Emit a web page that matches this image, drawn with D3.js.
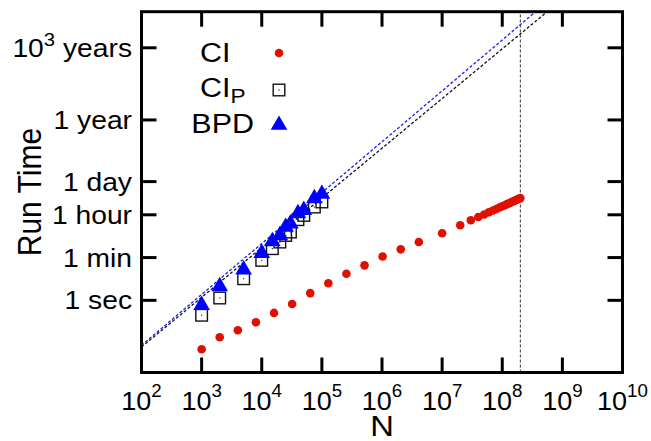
<!DOCTYPE html>
<html>
<head>
<meta charset="utf-8">
<script src="https://cdn.jsdelivr.net/npm/d3@7"></script>
<style>
  body { margin: 0; background: #fff; }
  text { font-family: "Liberation Sans", Arial, Helvetica, sans-serif; fill: #000; }
</style>
</head>
<body>
<div id="vis"></div>
<script>
// datos (N, tiempo en segundos)
const ciN = [1e3, 2e3, 4e3, 8e3, 1.6e4, 3.2e4, 6.4e4, 1.28e5, 2.56e5, 5.12e5, 1.024e6, 2.048e6, 4.096e6,
  1e7, 2e7, 3e7, 4e7, 5e7, 6e7, 7e7, 8e7, 9e7, 1e8, 1.1e8, 1.2e8, 1.3e8, 1.4e8, 1.5e8, 1.6e8, 1.7e8, 1.8e8, 1.9e8, 2e8];
const ciT = [0.0092, 0.029, 0.057, 0.122, 0.30, 0.70, 2.0, 5.1, 12.7, 28.5, 66, 132, 265,
  614, 1330, 2140, 2900, 3700, 4560, 5430, 6310, 7210, 8130, 9040, 9980, 10900, 11900, 12800, 13800, 14800, 15800, 16800, 17800];

const cipN = [1e3, 2e3, 5e3, 1e4, 1.5e4, 2e4, 2.5e4, 3e4, 4e4, 5e4, 7.5e4, 1e5];
const cipT = [0.24, 1.25, 7.9, 46, 141, 265, 500, 690, 2260, 3400, 7560, 12300];

const bpdN = [1e3, 2e3, 5e3, 1e4, 1.5e4, 2e4, 2.5e4, 3e4, 4e4, 5e4, 7.5e4, 1e5];
const bpdT = [0.63, 3.8, 18.8, 92, 283, 500, 1120, 1550, 4100, 5600, 17300, 26300];

// rectas de ajuste (extremos)
const fitCipN = [1e2, 5.6e8];
const fitCipT = [0.0115, 1e12];
const fitBpdN = [1e2, 3.6e8];
const fitBpdT = [0.0135, 1e12];

const cutoffN = 2e8;

const xTicks = [2, 3, 4, 5, 6, 7, 8, 9, 10];
const yTickVals = [1, 60, 3600, 86400, 3.156e7, 3.156e10];
const yTickLabels = ["1 sec", "1 min", "1 hour", "1 day", "1 year", "10^3 years"];

const WIDTH = 651;
const HEIGHT = 441;
const PLOT = { left: 141.5, right: 622.5, top: 11.7, bottom: 372.5 };
const ESTIRA = 1.13; // el texto original es mas ancho que Arial

const SVG = d3.select("#vis").append("svg")
  .attr("width", WIDTH).attr("height", HEIGHT);

const escalaX = d3.scaleLog().domain([1e2, 1e10]).range([PLOT.left, PLOT.right]);
const escalaY = d3.scaleLog().domain([1e-3, 1e12]).range([PLOT.bottom, PLOT.top]);

SVG.append("clipPath").attr("id", "clip")
  .append("rect")
  .attr("x", PLOT.left).attr("y", PLOT.top)
  .attr("width", PLOT.right - PLOT.left).attr("height", PLOT.bottom - PLOT.top);

const plot = SVG.append("g").attr("clip-path", "url(#clip)");

// linea vertical
plot.append("line")
  .attr("x1", escalaX(cutoffN)).attr("x2", escalaX(cutoffN))
  .attr("y1", escalaY(1e-3)).attr("y2", escalaY(1e12))
  .attr("stroke", "#333").attr("stroke-width", 1)
  .attr("stroke-dasharray", "3,2");

const linea = d3.line().x(d => escalaX(d[0])).y(d => escalaY(d[1]));

plot.append("path")
  .datum(d3.zip(fitBpdN, fitBpdT))
  .attr("fill", "none").attr("stroke", "#1a1aff").attr("stroke-width", 1.3)
  .attr("stroke-dasharray", "3,2")
  .attr("d", linea);

plot.append("path")
  .datum(d3.zip(fitCipN, fitCipT))
  .attr("fill", "none").attr("stroke", "#111").attr("stroke-width", 1.3)
  .attr("stroke-dasharray", "3,2")
  .attr("d", linea);

// CI_P cuadrados
const cuadrados = plot.selectAll(".cip")
  .data(d3.zip(cipN, cipT))
  .join("g").attr("class", "cip")
  .attr("transform", d => `translate(${escalaX(d[0])},${escalaY(d[1])})`);
cuadrados.append("rect")
  .attr("x", -5.8).attr("y", -5.8).attr("width", 11.6).attr("height", 11.6)
  .attr("fill", "none").attr("stroke", "#111").attr("stroke-width", 1.4);
cuadrados.append("rect")
  .attr("x", -0.6).attr("y", -0.6).attr("width", 1.2).attr("height", 1.2)
  .attr("fill", "#333");

// BPD triangulos
const tri = d3.symbol().type(d3.symbolTriangle).size(120);
plot.selectAll(".bpd")
  .data(d3.zip(bpdN, bpdT))
  .join("path").attr("class", "bpd")
  .attr("transform", d => `translate(${escalaX(d[0])},${escalaY(d[1])})`)
  .attr("d", tri)
  .attr("fill", "#0000ff");

// CI puntos
plot.selectAll(".ci")
  .data(d3.zip(ciN, ciT))
  .join("circle").attr("class", "ci")
  .attr("cx", d => escalaX(d[0]))
  .attr("cy", d => escalaY(d[1]))
  .attr("r", 4.3)
  .attr("fill", "#e01000");

// ticks
const ticks = SVG.append("g").attr("stroke", "#000").attr("stroke-width", 3);
xTicks.slice(1, -1).forEach(e => {
  const x = escalaX(Math.pow(10, e));
  ticks.append("line").attr("x1", x).attr("x2", x).attr("y1", PLOT.bottom).attr("y2", PLOT.bottom - 15);
  ticks.append("line").attr("x1", x).attr("x2", x).attr("y1", PLOT.top).attr("y2", PLOT.top + 15);
});
yTickVals.forEach(v => {
  const y = escalaY(v);
  ticks.append("line").attr("x1", PLOT.left).attr("x2", PLOT.left + 15).attr("y1", y).attr("y2", y);
  ticks.append("line").attr("x1", PLOT.right).attr("x2", PLOT.right - 15).attr("y1", y).attr("y2", y);
});

// marco
SVG.append("rect")
  .attr("x", PLOT.left).attr("y", PLOT.top)
  .attr("width", PLOT.right - PLOT.left).attr("height", PLOT.bottom - PLOT.top)
  .attr("fill", "none").attr("stroke", "#000").attr("stroke-width", 3);

// texto con estiramiento horizontal
function texto(x, y, anchor, size, k = ESTIRA) {
  return SVG.append("text")
    .attr("transform", `translate(${x},${y}) scale(${k},1)`)
    .attr("text-anchor", anchor)
    .attr("font-size", size);
}

// etiquetas eje x
xTicks.forEach(e => {
  const t = texto(escalaX(Math.pow(10, e)), 410, "middle", 26, 1.04);
  t.append("tspan").text("10");
  t.append("tspan").attr("dy", -13).attr("font-size", 18).text(e);
});

// etiquetas eje y
yTickVals.forEach((v, i) => {
  const t = texto(132, escalaY(v) + 9, "end", 25);
  const lab = yTickLabels[i];
  if (lab.includes("^")) {
    const [base, rest] = lab.split("^");
    t.append("tspan").text(base);
    t.append("tspan").attr("dy", -11).attr("font-size", 18).text(rest.split(" ")[0]);
    t.append("tspan").attr("dy", 11).text(" " + rest.split(" ").slice(1).join(" "));
  } else {
    t.text(lab);
  }
});

// titulos
texto((PLOT.left + PLOT.right) / 2, 436, "middle", 29).text("N");

SVG.append("text")
  .attr("transform", `translate(41,${(PLOT.top + PLOT.bottom) / 2}) rotate(-90) scale(1,${ESTIRA})`)
  .attr("text-anchor", "middle").attr("font-size", 30)
  .text("Run Time");

// leyenda
texto(200, 62, "start", 27).text("CI");
const tp = texto(200, 97, "start", 27);
tp.append("tspan").text("CI");
tp.append("tspan").attr("dy", 6).attr("font-size", 20).text("P");
texto(254, 133, "end", 27).text("BPD");

const leyenda = SVG.append("g");
leyenda.append("circle").attr("cx", 279).attr("cy", 53).attr("r", 4.3).attr("fill", "#e01000");
leyenda.append("rect").attr("x", 273.2).attr("y", 84.2).attr("width", 11.6).attr("height", 11.6)
  .attr("fill", "none").attr("stroke", "#111").attr("stroke-width", 1.4);
leyenda.append("rect").attr("x", 278.4).attr("y", 89.4).attr("width", 1.2).attr("height", 1.2).attr("fill", "#333");
leyenda.append("path").attr("transform", "translate(279,125)").attr("d", tri).attr("fill", "#0000ff");
</script>
</body>
</html>
